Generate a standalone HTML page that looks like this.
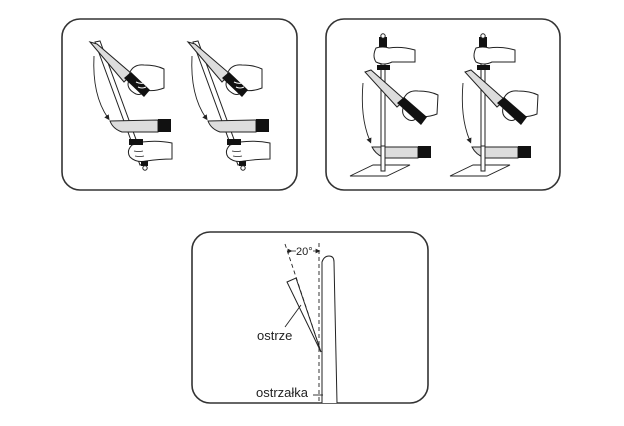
<!DOCTYPE html>
<html><head><meta charset="utf-8"><style>
html,body{margin:0;padding:0;background:#fff;}
svg{display:block;}
text{font-family:"Liberation Sans",Arial,sans-serif;fill:#222;}
</style></head><body>
<svg width="624" height="426" viewBox="0 0 624 426" xmlns="http://www.w3.org/2000/svg">
<defs>
<marker id="ah" markerWidth="6" markerHeight="6" refX="3" refY="3" orient="auto"><path d="M0,0 L6,3 L0,6z" fill="#222"/></marker>
<g id="fa">
  <polygon points="95,42 100,41 145,164 140,165" fill="#fff" stroke="#222" stroke-width="1"/>
  <polygon points="90,42 97,44 132,74 124,82" fill="#ddd" stroke="#222" stroke-width="1"/>
  <path d="M130,72 q4,-8 14,-7 q12,0 20,4 L164,88 q-10,4 -20,2 q-2,6 -8,4 q-8,-4 -8,-10z" fill="#fff" stroke="#222" stroke-width="1"/>
  <polygon points="124,78 131,72 150,90 144,97" fill="#111"/>
  <path d="M136,82 q4,2 8,1 M138,87 q4,2 8,0" fill="none" stroke="#fff" stroke-width="1"/>
  <path d="M94,56 Q92,95 108,118" fill="none" stroke="#222" stroke-width="0.9" marker-end="url(#ah)"/>
  <path d="M110,121 L158,120 L158,132 L122,132 Q113,129 110,121z" fill="#ddd" stroke="#222" stroke-width="1"/>
  <rect x="158" y="119" width="13" height="13" fill="#111"/>
  <path d="M132,145 q-6,6 -2,12 q6,6 16,4 q14,-2 26,-2 L172,143 q-14,-3 -30,-1z" fill="#fff" stroke="#222" stroke-width="1"/>
  <rect x="129" y="139" width="14" height="6" fill="#111"/>
  <path d="M134,151 q5,1 9,0 M135,156 q5,1 9,0" fill="none" stroke="#222" stroke-width="0.8"/>
  <rect x="141" y="161" width="7" height="5" fill="#111"/>
  <circle cx="145" cy="168" r="2.2" fill="#fff" stroke="#222"/>
</g>
<g id="fb">
  <rect x="381" y="44" width="4" height="127" fill="#fff" stroke="#222" stroke-width="1"/>
  <path d="M376,48 q-4,8 0,14 q8,4 16,0 q12,0 23,0 L415,50 q-14,-4 -26,-2 q-6,-2 -13,0z" fill="#fff" stroke="#222" stroke-width="1"/>
  <rect x="379" y="37" width="8" height="10" fill="#111"/>
  <circle cx="383" cy="36" r="2.2" fill="#fff" stroke="#222"/>
  <rect x="377" y="65" width="13" height="5" fill="#111"/>
  <polygon points="365,72 371,70 405,100 397,107" fill="#ddd" stroke="#222" stroke-width="1"/>
  <path d="M404,98 q4,-8 14,-7 q12,0 20,4 L437,114 q-10,4 -20,2 q-2,6 -8,4 q-8,-4 -6,-12z" fill="#fff" stroke="#222" stroke-width="1"/>
  <polygon points="397,103 404,97 427,117 421,125" fill="#111"/>
  <path d="M363,83 Q360,118 370,141" fill="none" stroke="#222" stroke-width="0.9" marker-end="url(#ah)"/>
  <path d="M372,147 L418,147 L418,158 L385,158 Q376,155 372,147z" fill="#ddd" stroke="#222" stroke-width="1"/>
  <rect x="418" y="146" width="13" height="12" fill="#111"/>
  <polygon points="350,176 373,165 410,165 387,176" fill="#fff" stroke="#222" stroke-width="0.9"/>
  <rect x="381" y="146" width="4" height="25" fill="#fff" stroke="#222" stroke-width="1"/>
</g>
</defs>

<rect x="62" y="19" width="235" height="171" rx="18" fill="#fff" stroke="#333" stroke-width="1.6"/>
<rect x="326" y="19" width="234" height="171" rx="18" fill="#fff" stroke="#333" stroke-width="1.6"/>
<rect x="192" y="232" width="236" height="171" rx="18" fill="#fff" stroke="#333" stroke-width="1.6"/>

<use href="#fa"/>
<use href="#fa" transform="translate(98,0)"/>
<use href="#fb"/>
<use href="#fb" transform="translate(100,0)"/>

<path d="M322,403 L322,262 Q324,256 329,256 Q334,256 334,262 L337,403" fill="#fff" stroke="#222" stroke-width="1"/>
<line x1="319" y1="243" x2="319" y2="403" stroke="#222" stroke-width="0.9" stroke-dasharray="4,3"/>
<line x1="285" y1="244" x2="321" y2="352" stroke="#222" stroke-width="0.9" stroke-dasharray="4,3"/>
<polygon points="287,282 296,278 321,352" fill="#fff" stroke="#222" stroke-width="1"/>
<line x1="285" y1="327" x2="301" y2="305" stroke="#222" stroke-width="0.9"/>
<line x1="290" y1="251" x2="296" y2="251" stroke="#222" stroke-width="0.8" marker-start="url(#ah)"/>
<line x1="313" y1="251" x2="318" y2="251" stroke="#222" stroke-width="0.8" marker-end="url(#ah)"/>
<text x="296" y="255" font-size="11">20°</text>
<text x="257" y="340" font-size="13">ostrze</text>
<text x="256" y="397" font-size="13">ostrzałka</text>
<line x1="313" y1="395" x2="323" y2="395" stroke="#222" stroke-width="0.9"/>
</svg>
</body></html>
